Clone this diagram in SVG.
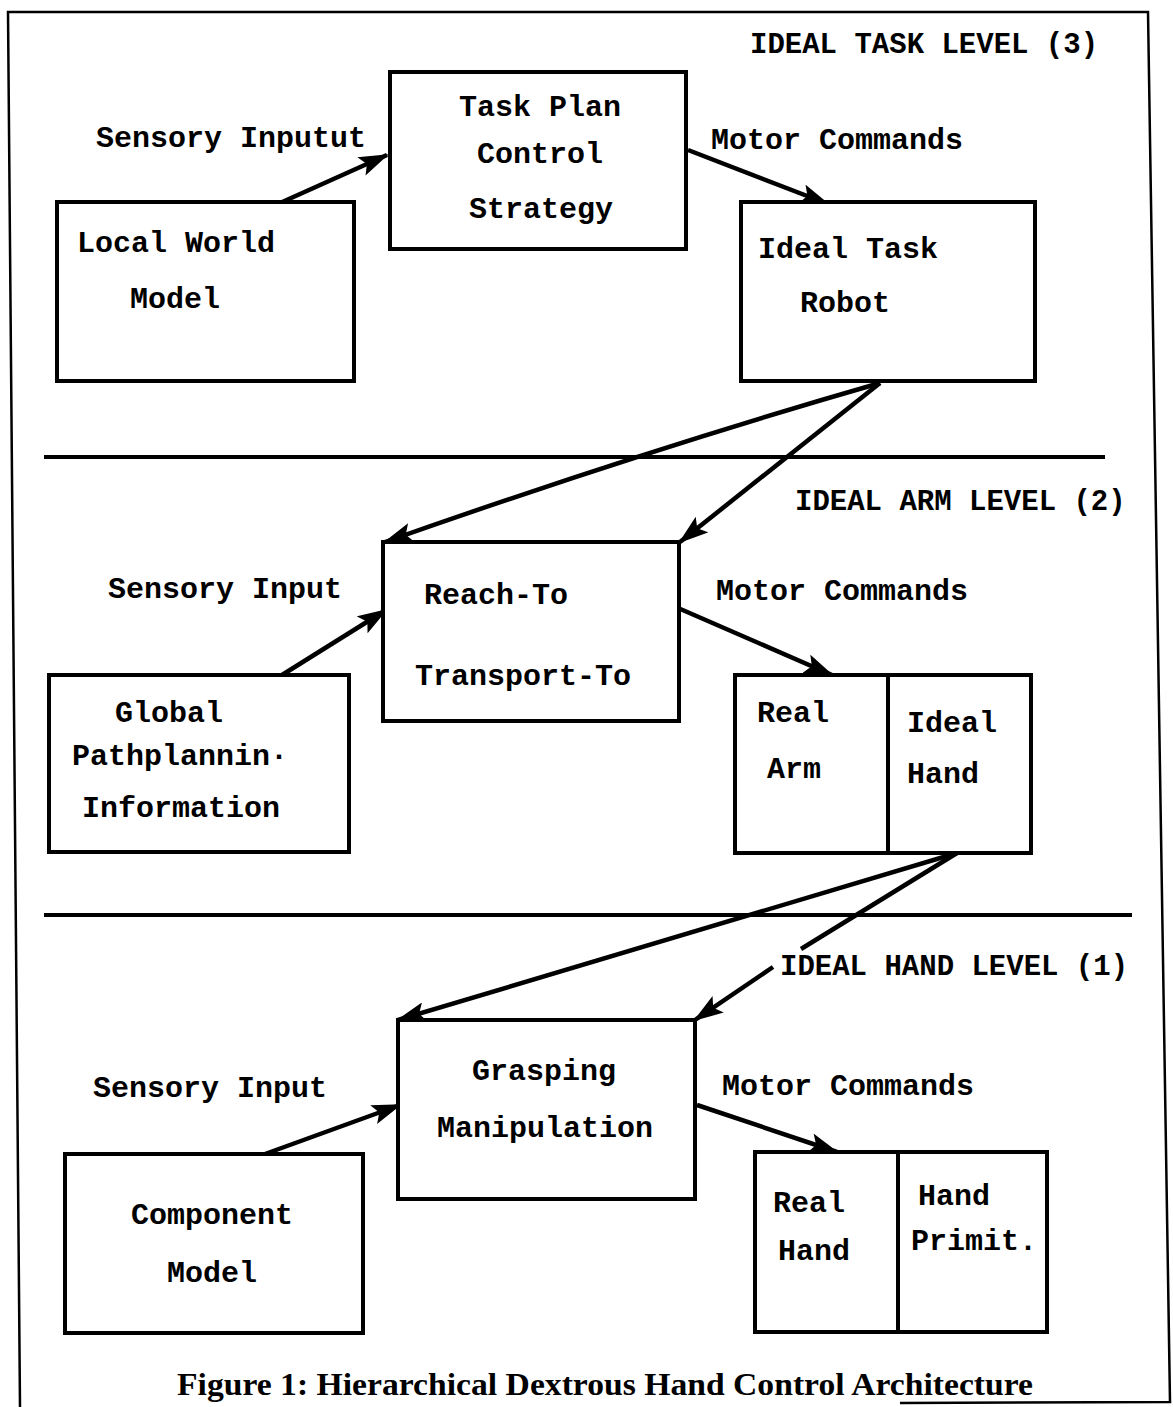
<svg xmlns="http://www.w3.org/2000/svg" width="1173" height="1407" viewBox="0 0 1173 1407">
<defs>
<marker id="ah" viewBox="0 0 30 20" refX="28" refY="10" markerWidth="30" markerHeight="20" markerUnits="userSpaceOnUse" orient="auto">
<path d="M0,0 L30,10 L0,20 L6,10 z" fill="#000"/>
</marker>
<style>
.box{fill:#fff;stroke:#000;stroke-width:4}
.t{font-family:"Liberation Mono","DejaVu Sans Mono",monospace;font-weight:bold;font-size:30px;fill:#000}
.lv{font-family:"Liberation Mono","DejaVu Sans Mono",monospace;font-weight:bold;font-size:29px;fill:#000}
.c{text-anchor:middle}
.ln{fill:none;stroke:#000;stroke-width:4.5}
.sep{stroke:#000;stroke-width:4}
</style>
</defs>
<rect width="1173" height="1407" fill="#fff"/>
<path d="M20,1407 L8,12 L1148,12 L1170,1402 L900,1403" fill="none" stroke="#000" stroke-width="2.5"/>
<line class="sep" x1="44" y1="457" x2="1105" y2="457"/>
<line class="sep" x1="44" y1="915" x2="1132" y2="915"/>
<text class="lv" x="750" y="53">IDEAL TASK LEVEL (3)</text>
<text class="lv" x="795" y="510">IDEAL ARM LEVEL (2)</text>
<text class="lv" x="780" y="975">IDEAL HAND LEVEL (1)</text>
<text class="t" x="96" y="147">Sensory Inputut</text>
<text class="t" x="711" y="149">Motor Commands</text>
<text class="t" x="108" y="598">Sensory Input</text>
<text class="t" x="716" y="600">Motor Commands</text>
<text class="t" x="93" y="1097">Sensory Input</text>
<text class="t" x="722" y="1095">Motor Commands</text>
<g id="connectors">
<line class="ln" x1="280" y1="203" x2="387" y2="155" marker-end="url(#ah)"/>
<line class="ln" x1="688" y1="150" x2="828" y2="204" marker-end="url(#ah)"/>
<path class="ln" d="M880,383 Q640,452 385,542" marker-end="url(#ah)"/>
<line class="ln" x1="880" y1="383" x2="680" y2="542" marker-end="url(#ah)"/>
<line class="ln" x1="282" y1="675" x2="386" y2="610" marker-end="url(#ah)"/>
<line class="ln" x1="678" y1="608" x2="832" y2="675" marker-end="url(#ah)"/>
<line class="ln" x1="957" y1="853" x2="398" y2="1020" marker-end="url(#ah)"/>
<line class="ln" x1="957" y1="853" x2="801" y2="949"/>
<line class="ln" x1="773" y1="967" x2="695" y2="1020" marker-end="url(#ah)"/>
<line class="ln" x1="265" y1="1154" x2="400" y2="1105" marker-end="url(#ah)"/>
<line class="ln" x1="697" y1="1105" x2="837" y2="1152" marker-end="url(#ah)"/>
</g>
<g id="local-world-model">
<rect class="box" x="57" y="202" width="297" height="179"/>
<text class="t" x="77" y="252">Local World</text>
<text class="t" x="130" y="308">Model</text>
</g>
<g id="task-plan">
<rect class="box" x="390" y="72" width="296" height="177"/>
<text class="t c" x="540" y="116">Task Plan</text>
<text class="t c" x="540" y="163">Control</text>
<text class="t c" x="541" y="218">Strategy</text>
</g>
<g id="ideal-task-robot">
<rect class="box" x="741" y="202" width="294" height="179"/>
<text class="t" x="758" y="258">Ideal Task</text>
<text class="t" x="800" y="312">Robot</text>
</g>
<g id="reach-to">
<rect class="box" x="383" y="542" width="296" height="179"/>
<text class="t" x="424" y="604">Reach-To</text>
<text class="t" x="415" y="685">Transport-To</text>
</g>
<g id="global-pathplanning">
<rect class="box" x="49" y="675" width="300" height="177"/>
<text class="t" x="115" y="722">Global</text>
<text class="t" x="72" y="765">Pathplannin·</text>
<text class="t" x="82" y="817">Information</text>
</g>
<g id="real-arm-ideal-hand">
<rect class="box" x="735" y="675" width="296" height="178"/>
<line class="sep" x1="888" y1="675" x2="888" y2="853"/>
<text class="t" x="757" y="722">Real</text>
<text class="t" x="767" y="778">Arm</text>
<text class="t" x="907" y="732">Ideal</text>
<text class="t" x="907" y="783">Hand</text>
</g>
<g id="grasping-manipulation">
<rect class="box" x="398" y="1020" width="297" height="179"/>
<text class="t c" x="544" y="1080">Grasping</text>
<text class="t c" x="545" y="1137">Manipulation</text>
</g>
<g id="component-model">
<rect class="box" x="65" y="1154" width="298" height="179"/>
<text class="t c" x="212" y="1224">Component</text>
<text class="t c" x="212" y="1282">Model</text>
</g>
<g id="real-hand-hand-primit">
<rect class="box" x="755" y="1152" width="292" height="180"/>
<line class="sep" x1="898" y1="1152" x2="898" y2="1332"/>
<text class="t" x="773" y="1212">Real</text>
<text class="t" x="778" y="1260">Hand</text>
<text class="t" x="918" y="1205">Hand</text>
<text class="t" x="911" y="1250">Primit.</text>
</g>
<text x="177" y="1395" textLength="856" lengthAdjust="spacingAndGlyphs" style="font-family:'Liberation Serif','DejaVu Serif',serif;font-weight:bold;font-size:31px;fill:#000">Figure 1: Hierarchical Dextrous Hand Control Architecture</text>
</svg>
